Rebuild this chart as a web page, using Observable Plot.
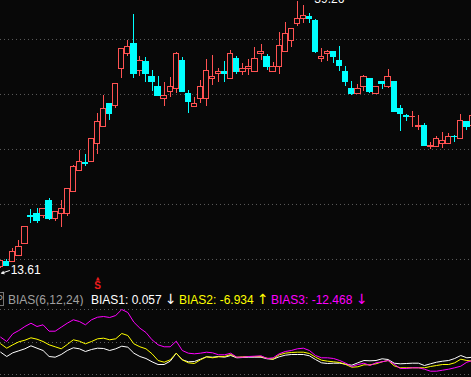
<!DOCTYPE html>
<html><head><meta charset="utf-8">
<script src="https://cdn.jsdelivr.net/npm/d3@7"></script>
<script src="https://cdn.jsdelivr.net/npm/@observablehq/plot@0.6"></script>
<style>
html,body{margin:0;padding:0;background:#080808;}
#wrap{position:relative;width:471px;height:377px;overflow:hidden;background:#080808;font-family:"Liberation Sans",Arial,sans-serif;}
#top{position:absolute;left:0;top:0;}
#bot{position:absolute;left:0;top:306px;}
.h{position:absolute;top:293px;font-size:12px;line-height:14px;white-space:nowrap;}
.a{position:absolute;top:292px;font-size:14px;line-height:14px;white-space:nowrap;font-family:"DejaVu Sans",sans-serif;}
#pbox{position:absolute;left:-7px;top:292px;width:9px;height:12px;border:1px solid #777;color:#999;font-size:11px;line-height:12px;text-align:right;}
</style></head><body>
<div id="wrap">
<div id="top"></div>
<div id="pbox">P</div>
<div id="hdr"></div>
<div id="bot"></div>
</div>
<script>
// ---- data ----
const opens = [13.71,14.19,14.19,14.86,15.92,18.65,18.80,18.70,20.14,18.41,18.80,18.80,21.00,23.02,23.74,23.88,25.61,27.15,29.36,29.26,32.72,34.25,35.21,32.62,33.39,31.95,30.99,29.84,30.60,30.80,33.58,30.32,29.16,29.84,29.84,31.85,32.33,32.52,31.76,33.77,32.52,32.72,32.52,34.16,33.87,32.43,32.91,34.44,35.50,37.13,37.52,37.80,37.42,33.68,34.16,34.35,33.58,32.52,30.89,30.41,30.99,31.76,30.32,31.47,31.08,31.47,28.88,28.30,28.11,27.15,27.34,25.23,25.32,25.61,25.61,26.28,26.00,27.63,27.34];
const highs = [14.38,14.48,15.53,16.30,17.55,19.28,19.37,19.28,20.33,18.99,20.14,21.29,23.50,24.94,24.56,26.09,28.49,30.22,29.45,31.37,34.64,35.50,38.00,33.96,33.87,32.62,32.04,31.47,31.95,34.35,33.87,30.70,30.03,31.66,33.68,34.06,32.81,33.48,34.54,33.96,33.29,33.68,34.83,35.12,34.16,33.39,36.27,37.23,36.65,39.26,38.86,38.09,37.52,34.73,34.54,34.44,34.92,33.00,31.56,31.28,32.14,31.85,31.08,31.47,32.72,31.47,29.26,28.40,28.68,28.30,27.53,25.71,26.28,26.67,26.57,26.38,28.40,27.63,28.30];
const lows = [13.61,13.80,14.19,14.86,15.92,17.93,17.93,18.41,18.22,18.12,17.55,18.60,20.91,23.02,23.40,23.79,24.56,27.15,27.82,28.97,31.85,33.96,31.85,32.04,31.47,30.60,30.22,29.16,30.03,30.41,30.60,28.49,29.16,29.45,29.16,31.18,31.47,31.47,31.76,32.24,32.14,32.14,32.43,33.58,32.62,32.43,32.24,34.44,34.83,36.84,37.13,37.13,34.25,33.39,33.48,33.29,32.52,31.08,30.22,30.41,30.60,30.41,30.32,30.80,30.89,28.68,26.76,27.72,27.15,26.86,25.32,25.04,25.23,25.13,25.61,25.71,26.00,26.86,27.34];
const closes = [14.38,13.90,15.15,15.72,17.55,18.60,18.22,19.28,18.41,18.99,19.28,21.29,23.31,23.88,23.69,26.09,27.72,28.88,28.40,31.37,34.64,34.83,32.24,33.58,32.33,31.56,30.22,30.22,31.08,34.16,30.60,29.64,29.36,30.99,32.62,32.04,32.52,32.24,34.16,32.43,32.81,33.00,33.77,34.35,32.91,33.00,35.02,36.08,36.65,37.61,37.90,37.61,34.35,33.96,34.35,33.87,33.10,31.47,30.32,30.89,32.04,30.60,30.99,31.37,31.95,28.68,28.40,28.11,28.20,27.34,25.42,25.42,26.00,25.90,26.19,26.19,27.82,27.15,28.30];
const priceGrid = [35.60, 30.32, 25.04, 19.76, 14.48];

const bias1 = [3.3,-1.0,2.7,4.7,6.7,9.7,7.3,5.0,-1.0,-1.7, 1.0,5.0,7.7,6.7,4.0,6.0,7.3,7.0,5.0,6.7, 9.3,8.3,2.3,-1.0,-3.0,-6.3,-9.0,-9.0,-5.7,2.3, -4.3,-6.3,-6.0,-3.7,-1.3,-1.7,-1.0,-1.7,0.0,-2.3, -2.0,-1.7,-1.7,-1.7,-3.3,-3.7,-1.3,0.3,1.0,1.0, 1.0,-0.3,-4.0,-7.3,-8.0,-7.7,-7.7,-8.7,-9.7,-7.3, -5.0,-5.3,-5.0,-3.3,-4.0,-7.7,-8.3,-8.0,-7.7,-7.7, -10.0,-8.3,-6.7,-5.7,-5.0,-3.0,0.0,-2.3,-1.7];
const bias2 = [11.7,7.3,10.7,13.7,15.3,17.7,16.3,14.0,10.7,8.7, 6.7,11.0,15.7,14.3,11.7,14.0,16.7,17.3,15.7,16.7, 22.0,20.0,11.7,8.7,6.7,1.7,-5.0,-6.7,-4.3,2.3, -4.3,-7.3,-8.0,-4.3,-1.3,-2.3,-1.3,-1.0,1.0,-1.7, -1.3,-1.0,-1.0,-1.0,-2.7,-3.7,0.7,2.3,3.0,3.3, 3.3,2.0,-1.7,-4.7,-5.7,-6.3,-7.0,-9.0,-11.7,-11.3, -9.3,-9.3,-8.3,-6.3,-5.0,-10.3,-12.3,-12.3,-12.3,-12.3, -12.3,-11.0,-10.0,-9.0,-9.0,-7.3,-3.7,-5.0,-5.7];
const bias3 = [18.3,14.0,21.7,25.0,29.0,32.3,29.0,30.7,24.3,24.3, 28.3,32.3,35.7,34.0,30.7,35.7,38.3,39.0,38.0,40.0, 46.0,43.0,33.3,27.3,23.0,15.7,10.7,8.7,8.7,14.3, 5.0,2.3,1.7,2.3,3.3,2.7,0.7,0.7,2.3,-1.7, -1.7,-1.0,-0.7,-0.3,-3.0,-2.3,1.7,4.0,5.0,6.7, 7.3,5.0,0.0,-2.3,-2.3,-3.0,-5.0,-7.7,-11.0,-9.0, -7.7,-10.0,-7.3,-6.3,-5.0,-8.7,-13.0,-13.0,-12.3,-12.3, -13.7,-15.7,-15.7,-14.7,-13.7,-12.3,-10.7,-6.7,-5.0];
const biasGrid = [46, 13, -19];

const indicatorName = "BIAS(6,12,24)";
const biasNames = ["BIAS1", "BIAS2", "BIAS3"];
const biasLast = ["0.057", "-6.934", "-12.468"];
const biasArrows = ["\u2193", "\u2191", "\u2193"];
const signalIndex = 17;
const signalText = "S";

// ---- styling ----
const BG = "#080808", RED = "#ff5252", CYAN = "#00ffff", GRID = "#5c5c5c";
const lineColors = ["#ffffff", "#ffff00", "#ff00ff"];
const xDomain = [0.969, 78.77];

const candles = opens.map((o, k) => ({i: k + 1, open: o, high: highs[k], low: lows[k], close: closes[k]}));
const upC = candles.filter(d => d.close >= d.open);
const dnC = candles.filter(d => d.close < d.open);
const minC = candles.reduce((a, b) => (b.low < a.low ? b : a));
const maxC = candles.reduce((a, b) => (b.high > a.high ? b : a));
const hw = 0.44;

const topPlot = Plot.plot({
  width: 471, height: 290, margin: 0,
  style: {background: BG, overflow: "hidden"},
  x: {domain: xDomain, axis: null},
  y: {domain: [11.50, 39.34], axis: null},
  marks: [
    Plot.ruleY(priceGrid, {stroke: GRID, strokeDasharray: "1,3"}),
    Plot.ruleX(upC, {x: "i", y1: "low", y2: "high", stroke: RED, shapeRendering: "crispEdges"}),
    Plot.ruleX(dnC, {x: "i", y1: "low", y2: "high", stroke: CYAN, shapeRendering: "crispEdges"}),
    Plot.rect(upC, {x1: d => d.i - hw, x2: d => d.i + hw, y1: "open", y2: "close", fill: BG, stroke: RED, strokeWidth: 1, shapeRendering: "crispEdges"}),
    Plot.rect(dnC, {x1: d => d.i - hw, x2: d => d.i + hw, y1: "open", y2: "close", fill: CYAN, stroke: CYAN, strokeWidth: 1, shapeRendering: "crispEdges"}),
    Plot.text([minC], {x: "i", y: "low", text: d => d.low.toFixed(2), dx: 10, dy: 2, textAnchor: "start", fill: "#ffffff", fontSize: 12, fontFamily: "Liberation Sans, Arial, sans-serif"}),
    Plot.arrow([minC], {x1: d => d.i + 1.45, y1: d => d.low - 0.2, x2: d => d.i + 0.15, y2: d => d.low - 0.45, stroke: "#ffffff", strokeWidth: 1, headLength: 4}),
    Plot.text([maxC], {x: "i", y: "high", text: d => d.high.toFixed(2), dx: 17, dy: -2, textAnchor: "start", fill: "#ffffff", fontSize: 12, fontFamily: "Liberation Sans, Arial, sans-serif"}),
    Plot.text([signalIndex], {x: d => d, frameAnchor: "bottom", lineAnchor: "middle", dy: -5, text: [signalText], fill: "#ee1c1c", fontSize: 10, fontWeight: "bold", fontFamily: "Liberation Sans, Arial, sans-serif"}),
    Plot.text([signalIndex], {x: d => d, frameAnchor: "bottom", lineAnchor: "middle", dy: -12.5, text: ["\u25B2"], fill: "#ee1c1c", fontSize: 5, fontFamily: "DejaVu Sans, sans-serif"})
  ]
});
document.getElementById("top").appendChild(topPlot);

// header
const hdr = document.getElementById("hdr");
const items = [
  {t: indicatorName, left: 8, c: "#a0a0a0", cls: "h"},
  {t: biasNames[0] + ": " + biasLast[0], left: 91, c: lineColors[0], cls: "h"},
  {t: biasArrows[0], left: 165, c: lineColors[0], cls: "a"},
  {t: biasNames[1] + ": " + biasLast[1], left: 179, c: lineColors[1], cls: "h"},
  {t: biasArrows[1], left: 257, c: lineColors[1], cls: "a"},
  {t: biasNames[2] + ": " + biasLast[2], left: 271, c: lineColors[2], cls: "h"},
  {t: biasArrows[2], left: 356, c: lineColors[2], cls: "a"}
];
for (const it of items) {
  const s = document.createElement("span");
  s.className = it.cls;
  s.style.left = it.left + "px";
  s.style.color = it.c;
  s.textContent = it.t;
  hdr.appendChild(s);
}

const botPlot = Plot.plot({
  width: 471, height: 71, margin: 0,
  style: {background: BG, overflow: "hidden"},
  x: {domain: xDomain, axis: null},
  y: {domain: [-22, 49], axis: null},
  marks: [
    Plot.ruleY(biasGrid, {stroke: GRID, strokeDasharray: "1,3"}),
    Plot.line(bias1, {x: (d, k) => k + 1, y: d => d, stroke: lineColors[0], strokeWidth: 1}),
    Plot.line(bias2, {x: (d, k) => k + 1, y: d => d, stroke: lineColors[1], strokeWidth: 1}),
    Plot.line(bias3, {x: (d, k) => k + 1, y: d => d, stroke: lineColors[2], strokeWidth: 1})
  ]
});
document.getElementById("bot").appendChild(botPlot);
</script>
</body></html>
